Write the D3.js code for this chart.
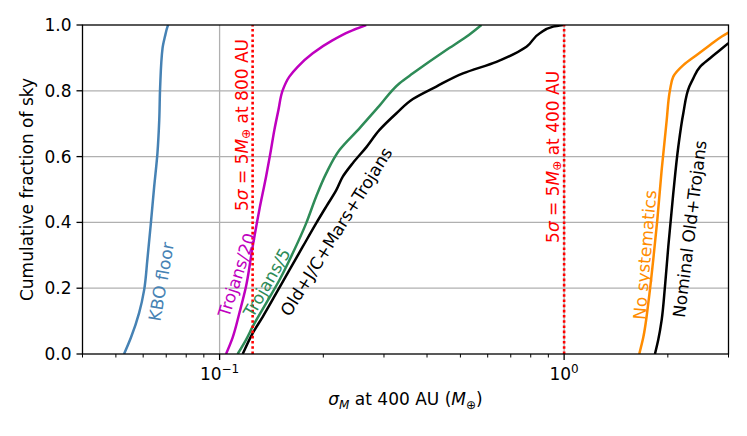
<!DOCTYPE html>
<html>
<head>
<meta charset="utf-8">
<script src="https://cdn.jsdelivr.net/npm/d3@7"></script>
<style>
body { margin: 0; background: white; }
text { font-family: "DejaVu Sans", sans-serif; }
</style>
</head>
<body>
<div id="chart"></div>
<script>
// cumulative sky-fraction curves, x = sigma_M at 400 AU (Earth masses)
var kbo_x = [0.0528, 0.0553, 0.0584, 0.0604, 0.0617, 0.0632, 0.0646, 0.0660, 0.0668, 0.0672, 0.0683, 0.0694, 0.0706, 0.0709];
var kbo_y = [0, 0.05, 0.125, 0.195, 0.286, 0.40, 0.51, 0.61, 0.71, 0.81, 0.93, 0.965, 0.995, 1.0];

var trojans20_x = [0.1044, 0.1091, 0.1141, 0.1193, 0.1247, 0.1304, 0.1364, 0.1404, 0.1442, 0.1482, 0.1525, 0.1594, 0.1685, 0.1864, 0.2131, 0.2382, 0.2664];
var trojans20_y = [0, 0.05, 0.124, 0.205, 0.326, 0.438, 0.539, 0.61, 0.681, 0.742, 0.802, 0.843, 0.873, 0.914, 0.954, 0.98, 1.0];

var trojans5_x = [0.1128, 0.1193, 0.1247, 0.1364, 0.1492, 0.1630, 0.1783, 0.1906, 0.2039, 0.2228, 0.2547, 0.2912, 0.3330, 0.3640, 0.4550, 0.5202, 0.5753];
var trojans5_y = [0, 0.043, 0.083, 0.154, 0.225, 0.306, 0.397, 0.478, 0.549, 0.62, 0.686, 0.755, 0.823, 0.853, 0.924, 0.964, 1.0];

var old_x = [0.1167, 0.1247, 0.1334, 0.1459, 0.1594, 0.1743, 0.1906, 0.2039, 0.2181, 0.2278, 0.2435, 0.2664, 0.2912, 0.3256, 0.3640, 0.4257, 0.5085, 0.6363, 0.7775, 0.85, 0.9291, 0.9933];
var old_y = [0, 0.063, 0.113, 0.184, 0.255, 0.326, 0.397, 0.448, 0.498, 0.539, 0.58, 0.628, 0.681, 0.731, 0.775, 0.813, 0.853, 0.888, 0.934, 0.975, 0.995, 1.0];

var nosys_x = [1.652, 1.697, 1.755, 1.814, 1.864, 1.919, 1.985, 2.029, 2.074, 2.218, 2.426, 2.652, 2.868, 2.998];
var nosys_y = [0, 0.05, 0.154, 0.286, 0.407, 0.559, 0.711, 0.802, 0.843, 0.878, 0.909, 0.939, 0.965, 0.977];

var nominal_x = [1.835, 1.876, 1.919, 1.962, 2.006, 2.074, 2.145, 2.218, 2.309, 2.371, 2.480, 2.652, 2.836, 2.998];
var nominal_y = [0, 0.043, 0.103, 0.205, 0.326, 0.488, 0.63, 0.732, 0.813, 0.838, 0.873, 0.899, 0.924, 0.945];

var series_names = ["KBO floor", "Trojans/20", "Trojans/5", "Old+J/C+Mars+Trojans", "No systematics", "Nominal Old+Trojans"];
var series_xs = [kbo_x, trojans20_x, trojans5_x, old_x, nosys_x, nominal_x];
var series_ys = [kbo_y, trojans20_y, trojans5_y, old_y, nosys_y, nominal_y];
// label anchor (data units) and rotation for each curve label
var label_x = [0.0677, 0.1122, 0.1372, 0.218, 1.716, 2.315];
var label_y = [0.22, 0.24, 0.217, 0.372, 0.301, 0.38];
var label_rot = [-80, -72, -60, -58, -85, -83];

// 5 sigma thresholds
var limit_x = [0.1247, 1.0];
var limit_au = ["800", "400"];
var limit_label_y = [0.696, 0.599];

var x_major = [0.1, 1];
var x_minor = [0.04, 0.05, 0.06, 0.07, 0.08, 0.09, 0.2, 0.3, 0.4, 0.5, 0.6, 0.7, 0.8, 0.9, 2, 3];
var x_exps = ["\u22121", "0"];
var y_ticks = [0, 0.2, 0.4, 0.6, 0.8, 1.0];

color_dict = {
    'KBO floor': '#4682b4',
    'Trojans/20': '#bf00bf',
    'Trojans/5': '#2e8b57',
    'Old+J/C+Mars+Trojans': '#000000',
    'No systematics': '#ff8c00',
    'Nominal Old+Trojans': '#000000'
};

var W = 747, H = 436;
var m_left = 82.5, m_right = 728.5, m_top = 25, m_bottom = 354;
var fs = 17;

var svg = d3.select("#chart").append("svg")
    .attr("width", W)
    .attr("height", H);

var x = d3.scaleLog().domain([0.04, 3]).range([m_left, m_right]);
var y = d3.scaleLinear().domain([0, 1]).range([m_bottom, m_top]);

svg.append("clipPath").attr("id", "clip")
    .append("rect")
    .attr("x", m_left).attr("y", m_top)
    .attr("width", m_right - m_left).attr("height", m_bottom - m_top);

// grid
for (var i = 1; i < y_ticks.length - 1; ++i) {
    svg.append("line")
        .attr("x1", m_left).attr("x2", m_right)
        .attr("y1", y(y_ticks[i])).attr("y2", y(y_ticks[i]))
        .style("stroke", "#b0b0b0").style("stroke-width", 1.3);
}
for (var i = 0; i < x_major.length; ++i) {
    svg.append("line")
        .attr("x1", x(x_major[i])).attr("x2", x(x_major[i]))
        .attr("y1", m_top).attr("y2", m_bottom)
        .style("stroke", "#b0b0b0").style("stroke-width", 1.3);
}

// curves (y rises monotonically along each one)
var line = d3.line()
    .x(function(d) { return x(d[0]); })
    .y(function(d) { return y(d[1]); })
    .curve(d3.curveMonotoneY);

var plot = svg.append("g").attr("clip-path", "url(#clip)");
for (var i = 0; i < series_names.length; ++i) {
    var pts = d3.zip(series_xs[i], series_ys[i]);
    plot.append("path")
        .datum(pts)
        .attr("d", line)
        .style("fill", "none")
        .style("stroke", color_dict[series_names[i]])
        .style("stroke-width", 2.5)
        .style("stroke-linejoin", "round");
}

// red dotted limits
for (var i = 0; i < limit_x.length; ++i) {
    plot.append("line")
        .attr("x1", x(limit_x[i])).attr("x2", x(limit_x[i]))
        .attr("y1", m_bottom).attr("y2", m_top)
        .style("stroke", "red")
        .style("stroke-width", 2.6)
        .style("stroke-dasharray", "2.6,2.6");

    var t = svg.append("text")
        .attr("text-anchor", "middle")
        .attr("dominant-baseline", "central")
        .attr("transform", "translate(" + (x(limit_x[i]) - 11) + "," + y(limit_label_y[i]) + ") rotate(-90)")
        .style("font-size", fs + "px")
        .style("fill", "red");
    t.append("tspan").text("5");
    t.append("tspan").style("font-style", "italic").text("\u03c3");
    t.append("tspan").text(" = 5");
    t.append("tspan").style("font-style", "italic").text("M");
    t.append("tspan").attr("dy", 4).style("font-size", "12px").text("\u2295");
    t.append("tspan").attr("dy", -4).text("  at " + limit_au[i] + " AU");
}

// curve labels
for (var i = 0; i < series_names.length; ++i) {
    svg.append("text")
        .attr("text-anchor", "middle")
        .attr("dominant-baseline", "central")
        .attr("transform", "translate(" + x(label_x[i]) + "," + y(label_y[i]) + ") rotate(" + label_rot[i] + ")")
        .style("font-size", fs + "px")
        .style("fill", color_dict[series_names[i]])
        .text(series_names[i]);
}

// axes
svg.append("rect")
    .attr("x", m_left).attr("y", m_top)
    .attr("width", m_right - m_left).attr("height", m_bottom - m_top)
    .style("fill", "none").style("stroke", "black").style("stroke-width", 1.3);

for (var i = 0; i < x_minor.length; ++i) {
    svg.append("line")
        .attr("x1", x(x_minor[i])).attr("x2", x(x_minor[i]))
        .attr("y1", m_bottom).attr("y2", m_bottom + 3.5)
        .style("stroke", "black").style("stroke-width", 1);
}
for (var i = 0; i < x_major.length; ++i) {
    svg.append("line")
        .attr("x1", x(x_major[i])).attr("x2", x(x_major[i]))
        .attr("y1", m_bottom).attr("y2", m_bottom + 6)
        .style("stroke", "black").style("stroke-width", 1.3);
    var lab = svg.append("text")
        .attr("x", x(x_major[i]))
        .attr("y", m_bottom + 26)
        .attr("text-anchor", "middle")
        .style("font-size", fs + "px");
    lab.append("tspan").text("10");
    lab.append("tspan").attr("dy", -7).style("font-size", "12px").text(x_exps[i]);
}

for (var i = 0; i < y_ticks.length; ++i) {
    svg.append("line")
        .attr("x1", m_left - 6).attr("x2", m_left)
        .attr("y1", y(y_ticks[i])).attr("y2", y(y_ticks[i]))
        .style("stroke", "black").style("stroke-width", 1.3);
    svg.append("text")
        .attr("x", m_left - 11)
        .attr("y", y(y_ticks[i]))
        .attr("text-anchor", "end")
        .attr("dominant-baseline", "central")
        .style("font-size", fs + "px")
        .text(d3.format(".1f")(y_ticks[i]));
}

// axis titles
var xl = svg.append("text")
    .attr("x", (m_left + m_right) / 2)
    .attr("y", 405)
    .attr("text-anchor", "middle")
    .style("font-size", fs + "px");
xl.append("tspan").style("font-style", "italic").text("\u03c3");
xl.append("tspan").attr("dy", 4).style("font-style", "italic").style("font-size", "12px").text("M");
xl.append("tspan").attr("dy", -4).text(" at 400 AU (");
xl.append("tspan").style("font-style", "italic").text("M");
xl.append("tspan").attr("dy", 4).style("font-size", "12px").text("\u2295");
xl.append("tspan").attr("dy", -4).text(")");

svg.append("text")
    .attr("transform", "translate(27," + (m_top + m_bottom) / 2 + ") rotate(-90)")
    .attr("text-anchor", "middle")
    .attr("dominant-baseline", "central")
    .style("font-size", fs + "px")
    .text("Cumulative fraction of sky");
</script>
</body>
</html>
